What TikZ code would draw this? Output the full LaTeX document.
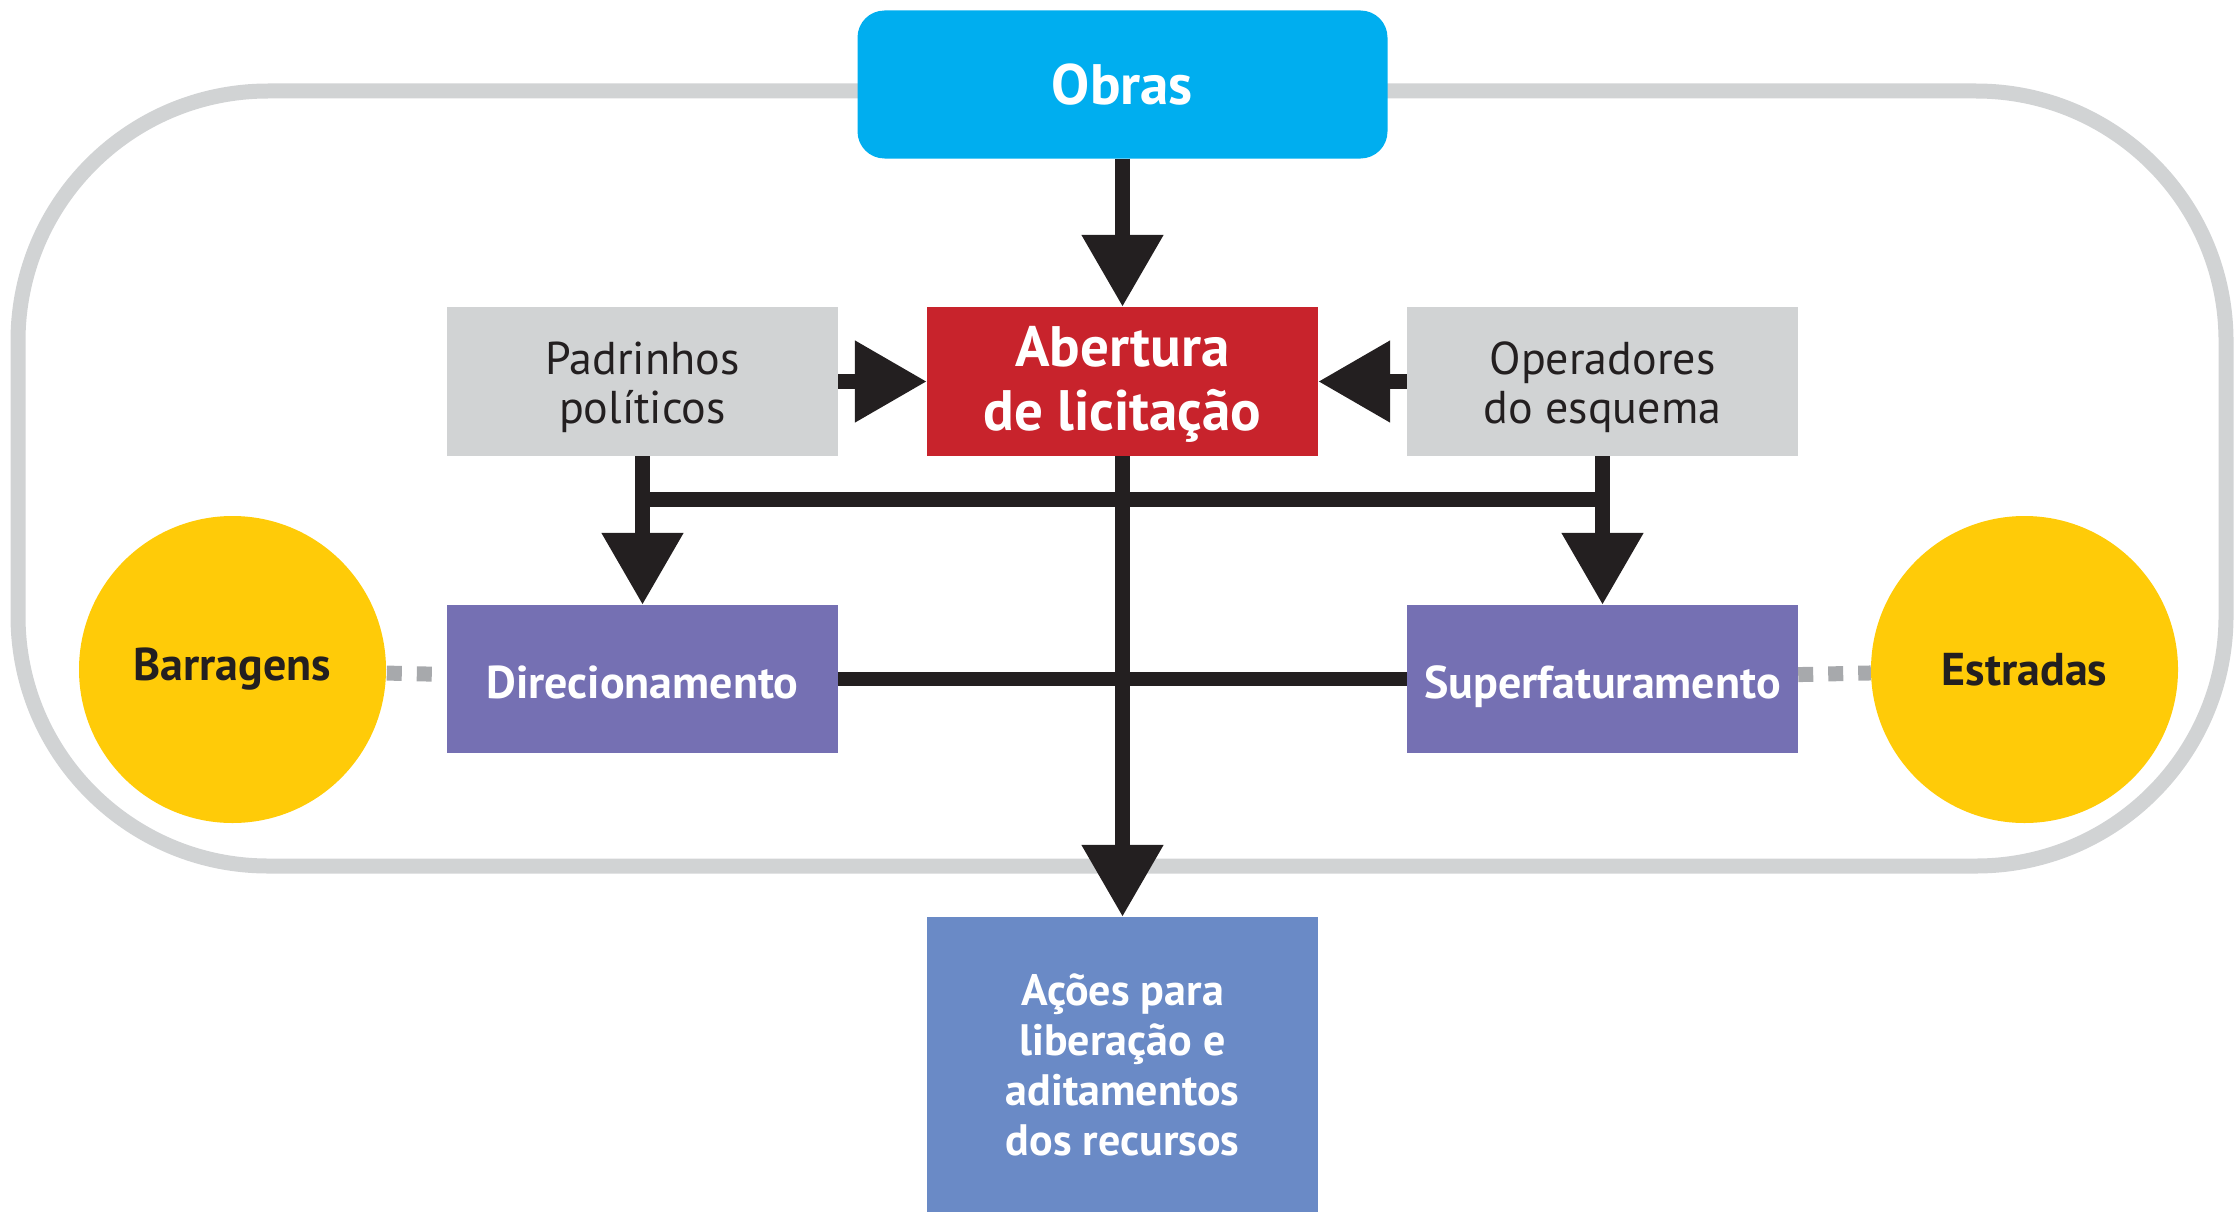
\documentclass[tikz,border=0pt]{standalone}
\usepackage{fontspec}
\setmainfont{PT Sans}
\usepackage{xcolor}
\usetikzlibrary{calc}
\usetikzlibrary{arrows.meta}

\definecolor{azulobras}{RGB}{0,174,239}
\definecolor{vermelho}{RGB}{200,35,44}
\definecolor{cinzabox}{RGB}{209,211,212}
\definecolor{roxo}{RGB}{117,112,179}
\definecolor{azulacoes}{RGB}{106,138,198}
\definecolor{amarelo}{RGB}{255,203,8}
\definecolor{preto}{RGB}{35,31,32}
\definecolor{cinzapont}{RGB}{167,169,172}

\begin{document}
\begin{tikzpicture}[x=1pt,y=-1pt]


\def\boxw{391pt}
\def\boxh{149pt}
\def\lw{15pt}
\def\lwfino{14pt}
\def\topo{\rule{0pt}{44pt}}
\tikzset{
block/.style = {rectangle, minimum width=\boxw, minimum height=\boxh, inner sep=0pt, align=center},
umalinha/.style = {text height=39pt, text depth=0pt},
seta/.style = {color=preto, line width=\lw, -{Triangle[length=72pt,width=78pt]}},
traco/.style = {color=preto, line width=\lw},
pontos/.style = {color=cinzapont, line width=\lw, dash pattern=on 15pt off 15pt},
bola/.style = {circle, fill=amarelo, minimum size=307pt, inner sep=0pt, text=preto}
}

\useasboundingbox (0,0) rectangle (2234,1212);

%\draw [help lines, step=100] (0,0) grid (2234,1212);

\draw[color=cinzabox, line width=\lw, rounded corners=250pt] (18,91) rectangle (2226,866);

\node[block, fill=azulobras, minimum width=530pt, minimum height=148pt, rounded corners=27pt,
      text=white, font=\fontsize{57}{63}\selectfont\bfseries] (obras) at (1122.5,84.5) {Obras};

\node[block, fill=vermelho, text=white, font=\fontsize{57}{63.5}\selectfont\bfseries]
      (abertura) at (1122.5,381.5) {\rule{0pt}{46pt}Abertura\\de licitação};
\node[block, fill=cinzabox, text=preto, font=\fontsize{46}{49}\selectfont]
      (padrinhos) at (642.5,381.5) {\topo Padrinhos\\políticos};
\node[block, fill=cinzabox, text=preto, font=\fontsize{46}{49}\selectfont]
      (operadores) at (1602.5,381.5) {\topo Operadores\\do esquema};

\node[block, umalinha, fill=roxo, minimum height=148pt, text=white, font=\fontsize{46}{49}\selectfont\bfseries]
      (direc) at (642.5,679) {Direcionamento};
\node[block, umalinha, fill=roxo, minimum height=148pt, text=white, font=\fontsize{46}{49}\selectfont\bfseries]
      (superf) at (1602.5,679) {Superfaturamento};

\node[bola, font=\fontsize{46}{49}\selectfont\bfseries] (barragens) at (232.5,669.5) {Barragens};
\node[bola, font=\fontsize{46}{49}\selectfont\bfseries] (estradas) at (2024.5,669.5) {Estradas};

\node[block, fill=azulacoes, minimum height=295pt, text=white, font=\fontsize{44}{50}\selectfont\bfseries]
      (acoes) at (1122.5,1064.5) {Ações para\\liberação e\\aditamentos\\dos recursos};

\coordinate (ramoE) at ($(padrinhos.south)+(0,43)$);
\coordinate (ramoD) at ($(operadores.south)+(0,43)$);

\draw[seta] (obras) -- (abertura);
\draw[seta] (padrinhos) -- (abertura);
\draw[seta] (operadores) -- (abertura);
\draw[seta] (padrinhos) -- (direc);
\draw[seta] (operadores) -- (superf);
\draw[traco] (ramoE) -- (ramoD);
\draw[traco, line width=\lwfino] (direc) -- (superf);
\draw[seta] (abertura) -- (acoes);

\draw[pontos, dash phase=15pt] (direc) -- (barragens);
\draw[pontos] (superf) -- (estradas);

\end{tikzpicture}
\end{document}
